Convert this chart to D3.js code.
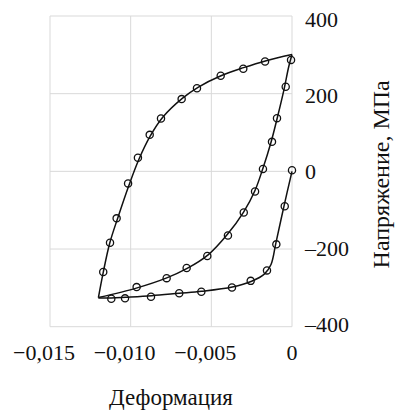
<!DOCTYPE html>
<html>
<head>
<meta charset="utf-8">
<script src="https://cdn.jsdelivr.net/npm/d3@7"></script>
<style>
  body { margin: 0; background: #fff; }
  svg text { font-family: "Liberation Serif", "Times New Roman", serif; fill: #111; }
</style>
</head>
<body>
<div id="chart"></div>
<script>
// Tick values
const xTicks = [-0.015, -0.010, -0.005, 0];
const yTicks = [-400, -200, 0, 200, 400];

// Model curves (solid lines)
const loadingCurve = [
    [-0.0120, -325], [-0.0117, -260], [-0.0113, -185], [-0.0108, -120], [-0.0101, -35],
    [-0.0095, 30], [-0.0088, 90], [-0.0080, 140], [-0.0068, 188], [-0.0058, 217],
    [-0.0044, 246], [-0.0030, 267], [-0.0016, 285], [0, 301]
];
const unloadingCurve = [
    [0, 301], [-0.0002, 270], [-0.0005, 210], [-0.0009, 140], [-0.0013, 75],
    [-0.0018, 8], [-0.0023, -50], [-0.0030, -105], [-0.0040, -162], [-0.0052, -215],
    [-0.0065, -250], [-0.0078, -275], [-0.0096, -300], [-0.0120, -325]
];
const initialCurve = [
    [0, 0], [-0.0005, -90], [-0.0010, -185], [-0.0013, -240], [-0.0017, -264],
    [-0.0025, -283], [-0.0037, -298], [-0.0056, -309], [-0.0070, -314], [-0.0087, -320],
    [-0.0103, -324], [-0.0112, -326], [-0.0120, -326]
];

// Experimental points (circles)
const loadingPoints = [
    [-0.01170, -259], [-0.01128, -184], [-0.01087, -121], [-0.01016, -31], [-0.00955, 35],
    [-0.00882, 94], [-0.00812, 136], [-0.00684, 186], [-0.00589, 214], [-0.00442, 246],
    [-0.00302, 264], [-0.00167, 283]
];
const unloadingPoints = [
    [-0.00006, 287], [-0.00039, 218], [-0.00093, 137], [-0.00124, 76], [-0.00180, 6],
    [-0.00229, -52], [-0.00299, -106], [-0.00397, -165], [-0.00525, -218], [-0.00653, -249],
    [-0.00777, -275], [-0.00963, -298]
];
const initialPoints = [
    [0, 3], [-0.00045, -90], [-0.00097, -188], [-0.00155, -255], [-0.00256, -282],
    [-0.00372, -299], [-0.00562, -310], [-0.00699, -314], [-0.00874, -323], [-0.01035, -327],
    [-0.01120, -328]
];

const width = 396;
const height = 412;
const margin = { left: 50, right: 104, top: 16, bottom: 85.3 };

const svg = d3.select('#chart')
    .append('svg')
    .attr('width', width)
    .attr('height', height);

const x = d3.scaleLinear()
    .domain([-0.015, 0])
    .range([margin.left, width - margin.right]);

const y = d3.scaleLinear()
    .domain([-400, 400])
    .range([height - margin.bottom, margin.top]);

const fmtX = d => d === 0 ? '0' : d3.format('.3f')(d).replace('-', '\u2013').replace('.', ',');
const fmtY = d => String(d).replace('-', '\u2013');

// Grid lines
svg.append('g')
    .selectAll('line')
    .data(xTicks)
    .enter()
    .append('line')
    .attr('x1', d => x(d)).attr('x2', d => x(d))
    .attr('y1', y(400)).attr('y2', y(-400))
    .attr('stroke', '#d9d9d9')
    .attr('stroke-width', 1);

svg.append('g')
    .selectAll('line')
    .data(yTicks)
    .enter()
    .append('line')
    .attr('x1', x(-0.015)).attr('x2', x(0))
    .attr('y1', d => y(d)).attr('y2', d => y(d))
    .attr('stroke', '#d9d9d9')
    .attr('stroke-width', 1);

// Tick labels (negative ones sit a little left of their gridline)
svg.append('g')
    .selectAll('text')
    .data(xTicks)
    .enter()
    .append('text')
    .attr('x', d => x(d) - (d < 0 ? 6 : 0))
    .attr('y', y(-400) + 26)
    .attr('text-anchor', 'middle')
    .attr('dominant-baseline', 'central')
    .style('font-size', '22px')
    .text(fmtX);

svg.append('g')
    .selectAll('text')
    .data(yTicks)
    .enter()
    .append('text')
    .attr('x', x(0) + 13)
    .attr('y', d => y(d) + 0.5 + d * 0.007)
    .attr('dominant-baseline', 'central')
    .style('font-size', '22px')
    .text(fmtY);

// Axis titles
svg.append('text')
    .attr('x', (x(-0.015) + x(0)) / 2)
    .attr('y', 397)
    .attr('text-anchor', 'middle')
    .attr('dominant-baseline', 'central')
    .style('font-size', '23px')
    .text('Деформация');

svg.append('text')
    .attr('transform', `translate(381,${y(0) + 3}) rotate(-90)`)
    .attr('text-anchor', 'middle')
    .attr('dominant-baseline', 'central')
    .style('font-size', '24px')
    .text('Напряжение, МПа');

// Curves
const line = d3.line()
    .x(d => x(d[0]))
    .y(d => y(d[1]))
    .curve(d3.curveCatmullRom);

[loadingCurve, unloadingCurve, initialCurve].forEach(c => {
    svg.append('path')
        .datum(c)
        .attr('d', line)
        .attr('fill', 'none')
        .attr('stroke', '#111')
        .attr('stroke-width', 1.5);
});

// Markers
[loadingPoints, unloadingPoints, initialPoints].forEach(p => {
    svg.append('g')
        .selectAll('circle')
        .data(p)
        .enter()
        .append('circle')
        .attr('cx', d => x(d[0]))
        .attr('cy', d => y(d[1]))
        .attr('r', 3.6)
        .attr('fill', 'none')
        .attr('stroke', '#111')
        .attr('stroke-width', 1.3);
});
</script>
</body>
</html>
